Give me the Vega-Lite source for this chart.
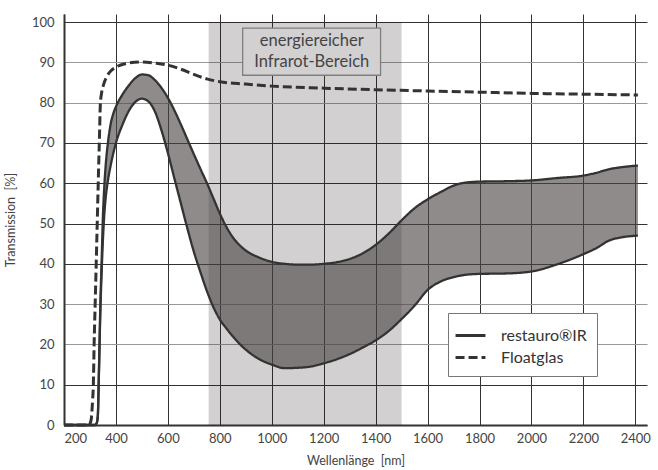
{
  "$schema": "https://vega.github.io/schema/vega-lite/v6.json",
  "width": 583,
  "height": 411,
  "autosize": {"type": "none"},
  "padding": {"left": 64, "top": 14, "right": 11, "bottom": 45},
  "background": "white",
  "datasets": {
    "restauro": [
      {"nm": 200, "lo": 0, "hi": 0},
      {"nm": 300, "lo": 0, "hi": 0},
      {"nm": 320, "lo": 0, "hi": 0},
      {"nm": 326, "lo": 0.5, "hi": 0.5},
      {"nm": 330, "lo": 2, "hi": 2},
      {"nm": 335, "lo": 14, "hi": 15},
      {"nm": 340, "lo": 28, "hi": 30},
      {"nm": 345, "lo": 38, "hi": 41},
      {"nm": 350, "lo": 46, "hi": 52},
      {"nm": 355, "lo": 52, "hi": 59},
      {"nm": 360, "lo": 56, "hi": 64},
      {"nm": 370, "lo": 61, "hi": 70.5},
      {"nm": 380, "lo": 64.5, "hi": 74.8},
      {"nm": 390, "lo": 67.5, "hi": 77.3},
      {"nm": 400, "lo": 70, "hi": 79},
      {"nm": 425, "lo": 74.5, "hi": 82},
      {"nm": 450, "lo": 78, "hi": 84.3},
      {"nm": 475, "lo": 80.2, "hi": 86.1},
      {"nm": 500, "lo": 81, "hi": 87},
      {"nm": 525, "lo": 80.3, "hi": 86.8},
      {"nm": 550, "lo": 77.8, "hi": 85.6},
      {"nm": 575, "lo": 73.2, "hi": 83.7},
      {"nm": 600, "lo": 67.5, "hi": 81.2},
      {"nm": 625, "lo": 61.2, "hi": 78.1},
      {"nm": 650, "lo": 55, "hi": 74.6},
      {"nm": 675, "lo": 48.8, "hi": 70.9},
      {"nm": 700, "lo": 43, "hi": 67.2},
      {"nm": 725, "lo": 38, "hi": 63.6},
      {"nm": 750, "lo": 33.3, "hi": 60.1},
      {"nm": 775, "lo": 29.3, "hi": 56.3},
      {"nm": 800, "lo": 26.2, "hi": 52.5},
      {"nm": 825, "lo": 24, "hi": 49.2},
      {"nm": 850, "lo": 22, "hi": 46.6},
      {"nm": 875, "lo": 20.2, "hi": 44.7},
      {"nm": 900, "lo": 18.7, "hi": 43.3},
      {"nm": 950, "lo": 16.4, "hi": 41.6},
      {"nm": 1000, "lo": 15, "hi": 40.5},
      {"nm": 1050, "lo": 14.1, "hi": 40},
      {"nm": 1100, "lo": 14.2, "hi": 39.8},
      {"nm": 1150, "lo": 14.5, "hi": 39.8},
      {"nm": 1200, "lo": 15.3, "hi": 40},
      {"nm": 1250, "lo": 16.3, "hi": 40.4},
      {"nm": 1300, "lo": 17.6, "hi": 41.2},
      {"nm": 1350, "lo": 19.2, "hi": 42.6},
      {"nm": 1400, "lo": 21, "hi": 44.7},
      {"nm": 1450, "lo": 23.3, "hi": 47.5},
      {"nm": 1500, "lo": 26.3, "hi": 50.8},
      {"nm": 1550, "lo": 29.6, "hi": 53.8},
      {"nm": 1600, "lo": 33.5, "hi": 56},
      {"nm": 1650, "lo": 35.6, "hi": 57.8},
      {"nm": 1700, "lo": 36.7, "hi": 59.4},
      {"nm": 1750, "lo": 37.3, "hi": 60.2},
      {"nm": 1800, "lo": 37.5, "hi": 60.4},
      {"nm": 1900, "lo": 37.6, "hi": 60.5},
      {"nm": 2000, "lo": 38.1, "hi": 60.7},
      {"nm": 2100, "lo": 39.9, "hi": 61.3},
      {"nm": 2200, "lo": 42.4, "hi": 61.9},
      {"nm": 2250, "lo": 43.9, "hi": 62.6},
      {"nm": 2300, "lo": 45.8, "hi": 63.5},
      {"nm": 2350, "lo": 46.6, "hi": 64},
      {"nm": 2410, "lo": 47, "hi": 64.4}
    ],
    "float": [
      {"nm": 200, "T": 0},
      {"nm": 295, "T": 0},
      {"nm": 300, "T": 0.3},
      {"nm": 305, "T": 1.5},
      {"nm": 310, "T": 6},
      {"nm": 313, "T": 10},
      {"nm": 316, "T": 20},
      {"nm": 320, "T": 30},
      {"nm": 326, "T": 45},
      {"nm": 333, "T": 63},
      {"nm": 336, "T": 70},
      {"nm": 340, "T": 79.6},
      {"nm": 345, "T": 82.5},
      {"nm": 353, "T": 84.6},
      {"nm": 365, "T": 86.5},
      {"nm": 381, "T": 87.9},
      {"nm": 400, "T": 88.8},
      {"nm": 445, "T": 89.8},
      {"nm": 500, "T": 90.1},
      {"nm": 550, "T": 89.8},
      {"nm": 600, "T": 89.3},
      {"nm": 650, "T": 88.3},
      {"nm": 700, "T": 87},
      {"nm": 750, "T": 85.9},
      {"nm": 800, "T": 85.2},
      {"nm": 900, "T": 84.6},
      {"nm": 1000, "T": 84.1},
      {"nm": 1200, "T": 83.6},
      {"nm": 1400, "T": 83.2},
      {"nm": 1600, "T": 82.9},
      {"nm": 1800, "T": 82.6},
      {"nm": 2000, "T": 82.3},
      {"nm": 2200, "T": 82.1},
      {"nm": 2410, "T": 81.9}
    ],
    "band": [
      {"start": 757, "end": 1500, "low": 0, "high": 100}
    ],
    "note": [
      {"start": 888, "end": 1419, "low": 86.8, "high": 98.5, "center": 1154, "mid": 92.7, "label": ["energiereicher", "Infrarot-Bereich"]}
    ]
  },
  "config": {
    "view": {"stroke": null},
    "font": "Lato",
    "axis": {
      "labelFont": "Lato",
      "labelFontSize": 13,
      "labelColor": "#444444",
      "titleFont": "Lato",
      "titleFontSize": 12.5,
      "titleFontWeight": "normal",
      "titleColor": "#444444",
      "ticks": false,
      "domainColor": "#333333",
      "domainWidth": 2,
      "gridWidth": 1
    },
    "axisX": {"labelPadding": 7, "titlePadding": 9, "gridColor": "#333333"},
    "axisY": {"labelPadding": 10, "titlePadding": 14},
    "legend": {
      "orient": "none",
      "legendX": 384,
      "legendY": 299,
      "fillColor": "white",
      "strokeColor": "#777777",
      "padding": 10,
      "symbolType": "M-1.36,0H1.36",
      "symbolSize": 484,
      "symbolStrokeWidth": 3,
      "symbolStrokeColor": "#333333",
      "labelFont": "Lato",
      "labelFontSize": 16,
      "labelColor": "#333333",
      "labelOffset": 18,
      "rowPadding": 1
    }
  },
  "layer": [
    {
      "data": {"name": "band"},
      "mark": {"type": "rect", "fill": "#1e1414", "opacity": 0.2},
      "encoding": {
        "x": {"field": "start", "type": "quantitative", "scale": {"domain": [200, 2445], "nice": false, "zero": false}, "title": "Wellenlänge\u00a0 [nm]", "axis": {"format": "d", "values": [200, 400, 600, 800, 1000, 1200, 1400, 1600, 1800, 2000, 2200, 2400]}},
        "x2": {"field": "end"},
        "y": {"field": "low", "type": "quantitative", "scale": {"domain": [0, 102], "nice": false}, "title": "Transmission\u00a0 [%]", "axis": {"values": [0, 10, 20, 30, 40, 50, 60, 70, 80, 90, 100], "gridColor": {"condition": {"test": "datum.value === 90 || datum.value === 80 || datum.value === 30 || datum.value === 20", "value": "#999999"}, "value": "#333333"}}},
        "y2": {"field": "high"}
      }
    },
    {
      "data": {"name": "restauro"},
      "mark": {"type": "area", "fill": "#4a4343", "opacity": 0.62, "interpolate": "monotone"},
      "encoding": {
        "x": {"field": "nm", "type": "quantitative", "title": "Wellenlänge\u00a0 [nm]"},
        "y": {"field": "lo", "type": "quantitative", "title": "Transmission\u00a0 [%]"},
        "y2": {"field": "hi"}
      }
    },
    {
      "data": {"name": "note"},
      "mark": {"type": "rect", "fill": "#d2d0d0", "stroke": "#7f7f7f", "strokeWidth": 1.3},
      "encoding": {
        "x": {"field": "start", "type": "quantitative", "title": "Wellenlänge\u00a0 [nm]"},
        "x2": {"field": "end"},
        "y": {"field": "low", "type": "quantitative", "title": "Transmission\u00a0 [%]"},
        "y2": {"field": "high"}
      }
    },
    {
      "data": {"name": "note"},
      "mark": {"type": "text", "font": "Lato", "fontSize": 16.5, "color": "#444444", "lineHeight": 21.6, "align": "center", "baseline": "middle", "dy": -10.8},
      "encoding": {
        "x": {"field": "center", "type": "quantitative", "title": "Wellenlänge\u00a0 [nm]"},
        "y": {"field": "mid", "type": "quantitative", "title": "Transmission\u00a0 [%]"},
        "text": {"field": "label"}
      }
    },
    {
      "data": {"name": "restauro"},
      "mark": {"type": "line", "color": "#333333", "strokeWidth": 2.3, "interpolate": "monotone"},
      "encoding": {
        "x": {"field": "nm", "type": "quantitative", "title": "Wellenlänge\u00a0 [nm]"},
        "y": {"field": "hi", "type": "quantitative", "title": "Transmission\u00a0 [%]"},
        "strokeDash": {"datum": "restauro®IR", "scale": {"domain": ["restauro®IR", "Floatglas"], "range": [[1, 0], [9, 4]]}, "legend": {"title": null}}
      }
    },
    {
      "data": {"name": "restauro"},
      "mark": {"type": "line", "color": "#333333", "strokeWidth": 2.3, "interpolate": "monotone"},
      "encoding": {
        "x": {"field": "nm", "type": "quantitative", "title": "Wellenlänge\u00a0 [nm]"},
        "y": {"field": "lo", "type": "quantitative", "title": "Transmission\u00a0 [%]"},
        "strokeDash": {"datum": "restauro®IR"}
      }
    },
    {
      "data": {"name": "float"},
      "mark": {"type": "line", "color": "#333333", "strokeWidth": 3, "interpolate": "monotone"},
      "encoding": {
        "x": {"field": "nm", "type": "quantitative", "title": "Wellenlänge\u00a0 [nm]"},
        "y": {"field": "T", "type": "quantitative", "title": "Transmission\u00a0 [%]"},
        "strokeDash": {"datum": "Floatglas"}
      }
    }
  ]
}
